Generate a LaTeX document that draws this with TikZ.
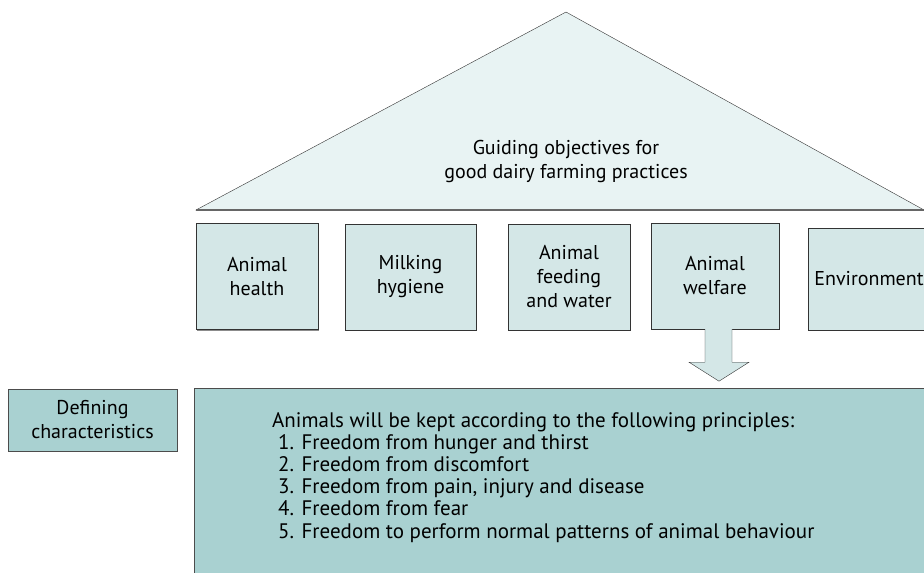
\documentclass[tikz,border=0pt]{standalone}
\usepackage{fontspec}
\setmainfont{PT Sans}
\usepackage{tikz}
\usetikzlibrary{shadows}
\definecolor{roofblue}{HTML}{E8F3F3}
\definecolor{pillarblue}{HTML}{D4E7E7}
\definecolor{baseblue}{HTML}{A9D1D1}

\begin{document}
\begin{tikzpicture}[x=1pt, y=-1pt, font=\fontsize{20}{24}\selectfont]
% Define styles
\tikzstyle{pillar} = [rectangle, draw=black!80, fill=pillarblue, align=center, inner sep=0pt, minimum height=106pt, drop shadow={shadow xshift=1pt, shadow yshift=-1pt, fill=black!45, opacity=1}]
\tikzstyle{base} = [rectangle, draw=black!70, fill=baseblue, inner sep=0pt, drop shadow={shadow xshift=1pt, shadow yshift=-1pt, fill=black!45, opacity=1}]

\useasboundingbox (0,0) rectangle (924,573);
\clip (0,0) rectangle (924,573);

% Roof
\draw [draw=black!80, fill=roofblue] (196,210) -- (566,12) -- (924,210) -- cycle;
\draw [black!60, line width=1.2pt] (196,210) -- (924,210);
\node [align=center] (goal) at (566,161) {Guiding objectives for\\good dairy farming practices};

% Pillars
\node [pillar, minimum width=122pt] (health) at (257,276.5) {Animal\\health};
\node [pillar, minimum width=131pt] (hygiene) at (410.5,277) {Milking\\hygiene};
\node [pillar, minimum width=122pt] (feeding) at (569,277) {Animal\\feeding\\and water};
\node [pillar, minimum width=128pt] (welfare) at (715,276) {Animal\\welfare};
\node [pillar, minimum width=122pt, minimum height=102pt] (environment) at (869,279) {Environment};

% Foundation
\node [base, minimum width=169pt, minimum height=62pt, align=center] (defining) at (92.5,420) {Defining\\characteristics};
\node [base, anchor=north west, minimum width=740pt, minimum height=200pt] (principles) at (194,388) {};
\node [anchor=north west, align=left, inner sep=0pt, font=\fontsize{21}{22.2}\selectfont] (list) at (272,412) {Animals will be kept according to the following principles:\\
\hspace*{6pt}1. Freedom from hunger and thirst\\
\hspace*{6pt}2. Freedom from discomfort\\
\hspace*{6pt}3. Freedom from pain, injury and disease\\
\hspace*{6pt}4. Freedom from fear\\
\hspace*{6pt}5. Freedom to perform normal patterns of animal behaviour};

% Connection
\draw [draw=black!80, fill=pillarblue] ([xshift=-10pt]welfare.south) -- ++(0,33) -- ++(-16,0) -- ++(30,19) -- ++(30,-19) -- ++(-17,0) -- ++(0,-33);

\end{tikzpicture}
\end{document}
